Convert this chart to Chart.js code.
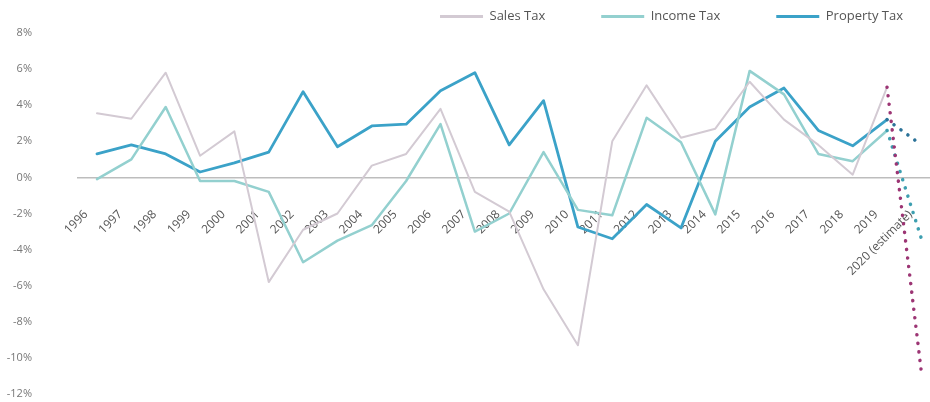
<!DOCTYPE html>
<html>
<head>
<meta charset="utf-8">
<script src="https://cdn.jsdelivr.net/npm/chart.js@4/dist/chart.umd.min.js"></script>
<style>
  html, body { margin: 0; padding: 0; background: #fff; }
  #wrap { width: 930px; height: 402px; position: relative; }
</style>
</head>
<body>
<div id="wrap"><canvas id="taxChart"></canvas></div>
<script>
const years = [1996, 1997, 1998, 1999, 2000, 2001, 2002, 2003, 2004, 2005, 2006, 2007, 2008,
               2009, 2010, 2011, 2012, 2013, 2014, 2015, 2016, 2017, 2018, 2019, 2020];
const yearLabels = ['1996', '1997', '1998', '1999', '2000', '2001', '2002', '2003', '2004', '2005',
                    '2006', '2007', '2008', '2009', '2010', '2011', '2012', '2013', '2014', '2015',
                    '2016', '2017', '2018', '2019', '2020 (estimate)'];

// annual change, %
const salesTax = [3.55, 3.25, 5.8, 1.2, 2.55, -5.8, -2.9, -2.0, 0.65, 1.3, 3.8, -0.8, -1.9,
                  -6.2, -9.3, 2.0, 5.1, 2.2, 2.7, 5.3, 3.2, 1.8, 0.15, 5.0, -10.8];
const incomeTax = [-0.1, 1.0, 3.9, -0.2, -0.2, -0.8, -4.7, -3.5, -2.65, -0.2, 2.95, -3.0, -2.0,
                   1.4, -1.8, -2.1, 3.3, 1.95, -2.05, 5.9, 4.6, 1.3, 0.9, 2.6, -3.4];
const propertyTax = [1.3, 1.8, 1.3, 0.3, 0.8, 1.4, 4.75, 1.7, 2.85, 2.95, 4.8, 5.8, 1.8,
                     4.25, -2.75, -3.4, -1.5, -2.8, 2.0, 3.9, 4.95, 2.6, 1.75, 3.2, 1.8];

const lastIdx = years.length - 1;
const toPoints = vals => vals.map((v, i) => ({ x: years[i], y: v }));

// last step (2020 estimate) drawn dotted in its own colour
function series(label, vals, color, dotColor, width) {
    return {
        label: label,
        data: toPoints(vals),
        borderColor: color,
        backgroundColor: color,
        borderWidth: width,
        borderCapStyle: 'round',
        borderJoinStyle: 'round',
        pointRadius: 0,
        tension: 0,
        segment: {
            borderColor: c => c.p1DataIndex === lastIdx ? dotColor : undefined,
            borderDash: c => c.p1DataIndex === lastIdx ? [0.1, 8.5] : undefined,
            borderWidth: c => c.p1DataIndex === lastIdx ? 3.5 : undefined
        }
    };
}

const font = 'Open Sans';

new Chart(document.getElementById('taxChart'), {
    type: 'line',
    data: {
        datasets: [
            series('Sales Tax', salesTax, '#d3cad3', '#9c3574', 2),
            series('Income Tax', incomeTax, '#93d0cf', '#3d9fb0', 2.5),
            series('Property Tax', propertyTax, '#3ba2c8', '#2b7298', 2.8)
        ]
    },
    options: {
        responsive: true,
        maintainAspectRatio: false,
        animation: false,
        // legend spills past the top/right so its items sit where the original has them
        layout: { padding: { top: -46, right: -29, left: 5, bottom: 8 } },
        plugins: {
            tooltip: { enabled: false },
            legend: {
                position: 'top',
                align: 'end',
                labels: {
                    boxWidth: 43,
                    boxHeight: 3,
                    padding: 56,
                    color: '#555',
                    font: { family: font, size: 13 },
                    generateLabels: chart => Chart.defaults.plugins.legend.labels.generateLabels(chart)
                        .map(item => Object.assign(item, { lineWidth: 0 }))
                }
            }
        },
        scales: {
            x: {
                type: 'linear',
                position: { y: 0 },
                min: 1995.447,
                max: 2020.25,
                grid: { display: false, drawTicks: false },
                border: { display: true, color: '#bdbdbd', width: 1.5 },
                afterBuildTicks: axis => { axis.ticks = years.map(v => ({ value: v })); },
                afterFit: scale => { scale.paddingLeft = 0; scale.paddingRight = 0; },
                ticks: {
                    autoSkip: false,
                    minRotation: 45,
                    maxRotation: 45,
                    padding: 30,
                    labelOffset: -11,
                    color: '#555',
                    font: { family: font, size: 12 },
                    callback: v => yearLabels[years.indexOf(v)]
                }
            },
            y: {
                min: -12,
                max: 8,
                grid: { display: false, drawTicks: false },
                border: { display: false },
                afterFit: scale => {
                    scale.width = 73;
                    scale.paddingTop = 7;
                    scale.paddingBottom = 7;
                },
                ticks: {
                    stepSize: 2,
                    padding: 46,
                    color: '#777',
                    font: { family: font, size: 11 },
                    callback: v => v + '%'
                }
            }
        }
    }
});
</script>
</body>
</html>
